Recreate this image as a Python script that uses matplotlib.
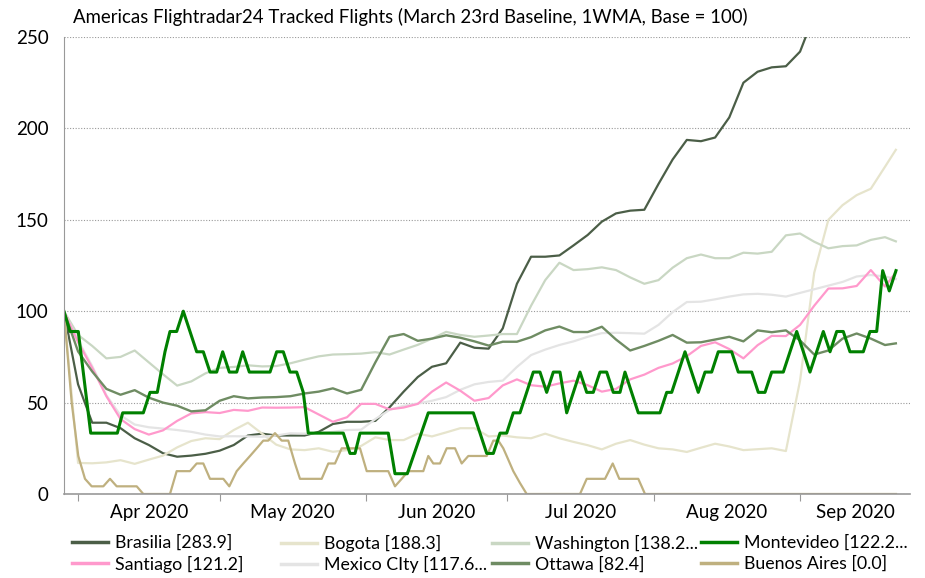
import numpy as np
import pandas as pd
import matplotlib
matplotlib.use("Agg")
import matplotlib.pyplot as plt
import matplotlib.dates as mdates
from matplotlib.ticker import FixedLocator, FixedFormatter, NullFormatter

plt.rcParams['font.family'] = ['Lato', 'DejaVu Sans']

# ---- data (day offsets from 29 Mar 2020, index = 100) ----
start = pd.Timestamp("2020-03-29")
grid_days = list(range(0, 175, 3)) + [176.3]

brasilia = [100, 60, 39, 39, 36, 30.5, 26.8, 22.3, 20.4, 21, 22, 23.7, 26.8, 32, 33, 32, 32, 32, 34, 38.3,
            39.5, 39.5, 40, 47.4, 56, 64, 69.6, 71.5, 82.8, 80, 79.5, 90.6, 115, 129.8, 129.8, 130.5, 136,
            141.7, 149, 153.5, 155, 155.5, 169.6, 183, 193.7, 193, 195, 206, 225, 231, 233.4, 234, 242, 262,
            267, 272, 276, 279, 282, 283.9]
bogota = [100, 17, 16.8, 17.3, 18.5, 16.5, 18.8, 21, 25.5, 29, 30.5, 30, 35, 39, 33, 27, 24.4, 24, 25, 23.1,
          24, 26.3, 31, 29.5, 29.5, 33, 31.5, 33.7, 36, 36, 31.5, 32, 31, 30.5, 33, 30.5, 28.5, 26.7, 24.4,
          27.5, 29.5, 27, 25, 24.4, 23, 25.3, 27.5, 26, 24, 24.5, 25, 23.5, 62, 121, 150, 158, 163.5, 167,
          179, 188.3]
washington = [100, 87, 81, 74.2, 75, 78.5, 72, 65.5, 59.3, 61.6, 66, 69, 69.5, 70.4, 69.8, 70, 71.5, 73.5,
              75.3, 76.3, 76.5, 76.8, 77.6, 76.3, 79, 81.6, 85, 88.7, 87, 86, 86.7, 87.5, 87.5, 103, 117,
              126.5, 122.5, 123, 124, 122.5, 118.5, 115, 117, 123.8, 129, 131, 129, 129, 132, 131.5, 132.5,
              141.5, 142.5, 138, 134.4, 135.6, 136, 139, 140.5, 138.2]
mexico = [100, 84, 70, 54, 43, 38, 36.5, 35.8, 35, 34, 32.5, 31.5, 31.6, 31.5, 31.3, 32, 33.2, 33, 33.3, 34,
          35, 35.2, 41, 46, 48.3, 49.5, 51, 53, 57, 60, 61.3, 62, 69.5, 76, 79, 81.5, 83.5, 86, 88, 88.2, 88,
          87.7, 92.5, 99.5, 105, 105.2, 106.5, 108, 109.2, 109.5, 109, 108, 110, 112, 114, 116, 119, 119.8,
          119, 117.6]
santiago = [100, 83, 69, 53.5, 41, 35.5, 32.5, 34.8, 40, 44.1, 44.8, 44.3, 46, 45.5, 47.3, 47.2, 47.3, 47.5,
            43.5, 39.5, 42, 49.3, 49.3, 46.3, 47.3, 49.3, 56, 61, 56.5, 51, 52.5, 59.4, 62.7, 59.5, 58.7,
            60.5, 62, 59.5, 56, 57.5, 62.7, 65.3, 69, 71.4, 75.4, 81, 83, 79.3, 74.2, 81.4, 86.5, 86.4, 92.5,
            103, 112.4, 112.5, 113.8, 122.5, 113.5, 121.2]
ottawa = [100, 78, 67, 57.5, 54.3, 56.8, 52.7, 50, 48.3, 45.2, 45.8, 51, 53.5, 52.3, 52.8, 53, 53.5, 55, 56,
          57.8, 55, 57, 72, 86, 87.5, 83.8, 85, 86.8, 85.5, 83.5, 81.2, 83.3, 83.3, 85.8, 89.5, 91.6, 88.6,
          88.6, 91.5, 84.5, 78.5, 81, 83.8, 87, 82.8, 83, 84.5, 86, 83.5, 89.5, 88.5, 89.5, 84, 76.3, 78.5,
          85, 87.8, 85, 81.5, 82.4]

montevideo_days = [0, 1.29, 3.05, 5.68, 11.32, 12.46, 16.83, 18.25, 19.79, 21.42, 22.48, 23.9, 25.3, 28.14,
                   29.54, 30.96, 32.38, 33.65, 35.05, 36.62, 37.89, 39.29, 43.68, 45.09, 46.49, 47.91, 49.33,
                   50.73, 51.79, 59.21, 60.63, 61.69, 62.75, 68.74, 70.16, 72.77, 77.22, 86.76, 89.6, 91.0,
                   92.42, 93.83, 95.23, 96.65, 99.47, 100.89, 102.31, 103.71, 105.13, 106.55, 109.37, 110.79,
                   112.18, 113.6, 115.02, 116.42, 117.84, 118.9, 121.72, 126.32, 127.74, 128.8, 131.62,
                   134.43, 135.86, 137.27, 138.67, 141.51, 142.91, 145.75, 147.15, 148.57, 149.99, 152.45,
                   155.29, 158.11, 160.93, 162.35, 163.77, 165.16, 166.58, 169.4, 170.82, 172.24, 173.51,
                   174.91, 176.33]
montevideo = [100, 88.9, 88.9, 33.3, 33.3, 44.4, 44.4, 55.6, 55.6, 77.8, 88.9, 88.9, 100, 77.8, 77.8, 66.7,
              66.7, 77.8, 66.7, 66.7, 77.8, 66.7, 66.7, 77.8, 77.8, 66.7, 66.7, 55.6, 33.3, 33.3, 22.2, 22.2,
              33.3, 33.3, 11.1, 11.1, 44.4, 44.4, 22.2, 22.2, 33.3, 33.3, 44.4, 44.4, 66.7, 66.7, 55.6, 66.7,
              66.7, 44.4, 66.7, 55.6, 55.6, 66.7, 66.7, 55.6, 55.6, 66.7, 44.4, 44.4, 55.6, 55.6, 77.8, 55.6,
              66.7, 66.7, 77.8, 77.8, 66.7, 66.7, 55.6, 55.6, 66.7, 66.7, 88.9, 66.7, 88.9, 77.8, 88.9, 88.9,
              77.8, 77.8, 88.9, 88.9, 122.2, 111.1, 122.2]

buenos_days = [0, 1.65, 3.05, 4.47, 5.89, 8.35, 9.77, 11.19, 15.43, 16.83, 22.48, 23.9, 26.72, 28.14, 29.54,
               30.96, 33.78, 35.05, 36.62, 38.02, 39.44, 40.86, 42.25, 43.31, 44.73, 46.15, 47.55, 48.97,
               50.03, 54.63, 56.03, 57.45, 58.87, 62.75, 64.17, 68.74, 70.16, 71.58, 72.98, 76.16, 77.22,
               78.28, 79.7, 81.12, 82.88, 84.3, 85.7, 87.48, 89.6, 91.0, 92.06, 93.11, 93.83, 95.23, 96.65,
               98.07, 109.37, 110.79, 114.67, 116.3, 117.7, 121.72, 123.14, 176.33]
buenos_aires = [100, 50, 20.8, 8.3, 4.2, 4.2, 8.3, 4.2, 4.2, 0, 0, 12.5, 12.5, 16.7, 16.7, 8.3, 8.3, 4.2,
                12.5, 16.7, 20.8, 25, 29.2, 29.2, 33.3, 29.2, 29.2, 16.7, 8.3, 8.3, 16.7, 16.7, 25, 25, 12.5,
                12.5, 4.2, 8.3, 12.5, 12.5, 20.8, 16.7, 16.7, 25, 25, 16.7, 20.8, 20.8, 20.8, 29.2, 29.2, 25,
                20.8, 12.5, 6.0, 0, 0, 8.3, 8.3, 16.7, 8.3, 8.3, 0, 0]

month_labels = ["Apr 2020", "May 2020", "Jun 2020", "Jul 2020", "Aug 2020", "Sep 2020"]
legend_labels = {
    "Brasilia": "Brasilia [283.9]", "Bogota": "Bogota [188.3]", "Washington": "Washington [138.2...",
    "Montevideo": "Montevideo [122.2...", "Santiago": "Santiago [121.2]", "Mexico": "Mexico CIty [117.6...",
    "Ottawa": "Ottawa [82.4]", "Buenos": "Buenos Aires [0.0]",
}


def to_x(days):
    return mdates.date2num(start) + np.asarray(days, dtype=float)


fig = plt.figure(figsize=(9.25, 5.78), dpi=100)
ax = fig.add_axes([63.9 / 925, 1 - 494 / 578, (910 - 63.9) / 925, (494 - 37) / 578])

series = [
    ("Brasilia", grid_days, brasilia, "#4b5e47", 1.6),
    ("Bogota", grid_days, bogota, "#e6e4cc", 1.6),
    ("Washington", grid_days, washington, "#c9d7c3", 1.6),
    ("Mexico", grid_days, mexico, "#e4e4e4", 1.6),
    ("Santiago", grid_days, santiago, "#ff99cc", 1.6),
    ("Ottawa", grid_days, ottawa, "#6f8c63", 1.7),
    ("Buenos", buenos_days, buenos_aires, "#bfb07f", 1.6),
    ("Montevideo", montevideo_days, montevideo, "#008000", 2.2),
]
handles = {}
for key, d, v, col, lw in series:
    ln, = ax.plot(to_x(d), v, color=col, lw=lw, label=legend_labels[key])
    handles[key] = ln

xmin, xmax = to_x(0), to_x(179.3)
ax.set_xlim(xmin, xmax)
ax.set_ylim(0, 250)
ax.set_yticks([0, 50, 100, 150, 200, 250])
ax.yaxis.grid(True, linestyle=(0, (1, 1.5)), color="#999999", lw=0.8)
ax.set_axisbelow(True)
ax.tick_params(axis="y", length=0, labelsize=13.5, pad=11)

for s in ["top", "right"]:
    ax.spines[s].set_visible(False)
ax.spines["left"].set_color("#999999")
ax.spines["bottom"].set_color("#999999")
ax.spines["bottom"].set_linewidth(1.2)

# month ticks at starts, labels centred in each month
ax.xaxis.set_major_locator(mdates.MonthLocator())
ax.xaxis.set_major_formatter(NullFormatter())
ax.tick_params(axis="x", which="major", length=5, color="#999999")
month_starts = [mdates.date2num(pd.Timestamp(2020, m, 1)) for m in range(4, 11)]
mids = [(max(a, xmin) + min(b, xmax)) / 2 for a, b in zip(month_starts[:-1], month_starts[1:])]
ax.xaxis.set_minor_locator(FixedLocator(mids))
ax.xaxis.set_minor_formatter(FixedFormatter(month_labels))
ax.tick_params(axis="x", which="minor", length=0, labelsize=13.5, pad=7)

fig.text(73 / 925, 1 - 17 / 578, "Americas Flightradar24 Tracked Flights (March 23rd Baseline, 1WMA, Base = 100)",
         fontsize=13.4, va="center", ha="left")

cols = [["Brasilia", "Santiago"], ["Bogota", "Mexico"], ["Washington", "Ottawa"], ["Montevideo", "Buenos"]]
col_x = [72, 281, 492, 701]
for keys, x in zip(cols, col_x):
    leg = fig.legend([handles[k] for k in keys], [legend_labels[k] for k in keys],
                     loc="upper left", bbox_to_anchor=(x / 925, 1 - 535 / 578), frameon=False,
                     fontsize=12.8, borderpad=0, borderaxespad=0, handlelength=2.0, handletextpad=0.4,
                     labelspacing=0.25)
    for ln in leg.get_lines():
        ln.set_linewidth(2.5)

fig.savefig("out.png", dpi=100)
